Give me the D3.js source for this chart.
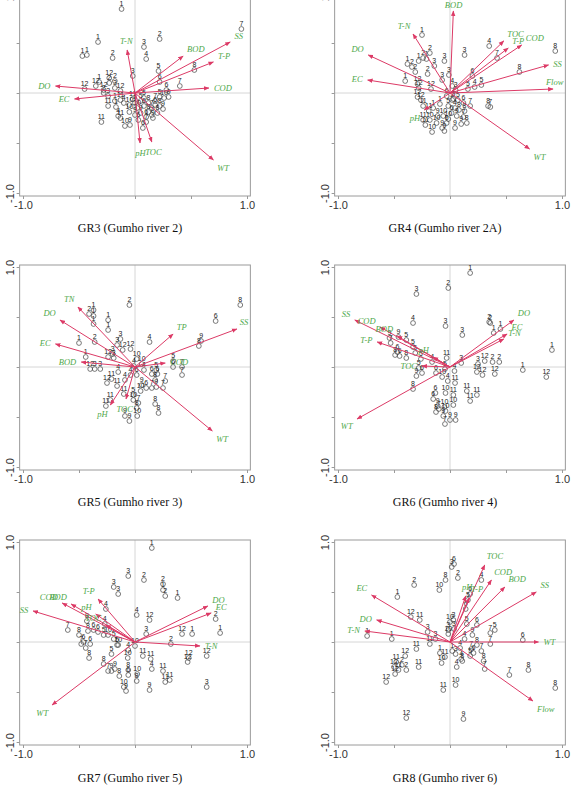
<!DOCTYPE html>
<html>
<head>
<meta charset="utf-8">
<script src="https://cdn.jsdelivr.net/npm/d3@7"></script>
<style>
body { margin: 0; background: #fff; }
.site text { font-family: "Liberation Sans", Arial, sans-serif; font-size: 7px; fill: #222; }
.vec text { font-family: "Liberation Serif", "Times New Roman", serif; font-style: italic; font-size: 8.5px; fill: #4ea84a; }
.tick text { font-family: "Liberation Sans", Arial, sans-serif; font-size: 11px; fill: #333; }
.caption { font-family: "Liberation Serif", "Times New Roman", serif; font-size: 12px; fill: #111; }
</style>
</head>
<body>
<svg id="chart" width="571" height="788"></svg>
<script>
// panel titles
const panelTitles = ["GR3 (Gumho river 2)", "GR4 (Gumho river 2A)", "GR5 (Gumho river 3)",
                     "GR6 (Gumho river 4)", "GR7 (Gumho river 5)", "GR8 (Gumho river 6)"];

// axis ticks
const tickValues = [-1, -0.5, 0, 0.5, 1];
const tickLabels = {"-1": "-1.0", "1": "1.0"};

// variable vectors: [name, axis1, axis2]
const gr3Vectors = [["SS",0.85,0.51],["T-P",0.70,0.31],["BOD",0.43,0.37],["COD",0.66,0.05],["WT",0.70,-0.67],
  ["TOC",0.15,-0.49],["pH",0.045,-0.50],["T-N",-0.07,0.43],["DO",-0.71,0.07],["EC",-0.54,-0.06]];
const gr4Vectors = [["BOD",0.03,0.82],["T-N",-0.33,0.59],["TOC",0.48,0.52],["T-P",0.52,0.45],["COD",0.64,0.48],
  ["DO",-0.73,0.38],["SS",0.88,0.28],["EC",-0.735,0.13],["Flow",0.92,0.04],["WT",0.71,-0.56],["pH",-0.23,-0.17]];
const gr5Vectors = [["TN",-0.51,0.60],["DO",-0.67,0.47],["EC",-0.71,0.23],["BOD",-0.48,0.05],["TP",0.34,0.33],
  ["SS",0.91,0.38],["COD",0.27,0.04],["WT",0.69,-0.64],["TOC",-0.08,-0.32],["pH",-0.22,-0.38]];
const gr6Vectors = [["SS",-0.85,0.47],["COD",-0.625,0.40],["BOD",-0.47,0.31],["T-P",-0.65,0.25],["pH",-0.15,0.10],
  ["TOC",-0.25,0.01],["WT",-0.83,-0.52],["DO",0.57,0.47],["EC",0.51,0.33],["T-N",0.48,0.28]];
const gr7Vectors = [["SS",-0.91,0.31],["COD",-0.65,0.39],["BOD",-0.57,0.38],["T-P",-0.33,0.43],["pH",-0.35,0.28],
  ["TOC",-0.26,0.17],["WT",-0.74,-0.63],["DO",0.65,0.36],["EC",0.68,0.29],["T-N",0.58,-0.04]];
const gr8Vectors = [["TOC",0.31,0.77],["COD",0.37,0.62],["BOD",0.49,0.55],["pH",0.14,0.46],["T-P",0.17,0.44],
  ["SS",0.77,0.50],["EC",-0.70,0.47],["DO",-0.655,0.22],["T-N",-0.76,0.11],["WT",0.79,0.0],["Flow",0.74,-0.59]];

// site scores: [axis1, axis2, month]
const gr3Sites = [[-0.12,0.84,"1"],[-0.33,0.51,"1"],[-0.47,0.37,"1"],[-0.43,0.38,"1"],[-0.20,0.35,"2"],[0.22,0.54,"2"],
  [0.08,0.46,"3"],[0.10,0.34,"4"],[0.95,0.64,"7"],[0.53,0.23,"8"],[-0.02,0.17,"3"],[0.21,0.22,"5"],[0.22,0.11,"6"],
  [0.28,0.03,"6"],[0.40,0.07,"7"],[0.22,-0.04,"5"],[0.26,-0.05,"10"],[0.30,-0.04,"9"],[-0.23,0.15,"12"],[-0.18,0.12,"2"],
  [-0.23,0.10,"2"],[-0.32,0.11,"1"],[-0.35,0.07,"12"],[-0.45,0.04,"12"],[-0.18,0.05,"3"],[-0.28,0.03,"12"],[-0.28,0.0,"2"],
  [-0.24,-0.03,"3"],[-0.13,0.02,"12"],[-0.13,-0.07,"11"],[-0.18,-0.08,"1"],[-0.24,-0.13,"11"],[-0.17,-0.14,"1"],
  [-0.10,-0.10,"4"],[-0.05,-0.12,"10"],[0.0,-0.10,"4"],[0.05,-0.08,"5"],[0.08,-0.13,"6"],[0.12,-0.10,"8"],[0.15,-0.15,"7"],
  [0.18,-0.12,"6"],[0.22,-0.13,"8"],[0.25,-0.16,"9"],[0.20,-0.20,"8"],[0.15,-0.22,"7"],[0.10,-0.24,"6"],[0.05,-0.20,"9"],
  [0.0,-0.22,"9"],[-0.05,-0.19,"10"],[-0.15,-0.23,"4"],[-0.13,-0.25,"11"],[-0.30,-0.29,"11"],[-0.09,-0.33,"10"],
  [-0.045,-0.32,"9"],[0.07,-0.35,"6"],[0.10,-0.29,"7"],[0.16,-0.25,"9"],[0.02,-0.15,"10"],[-0.02,-0.06,"11"],
  [0.08,-0.05,"5"],[0.12,-0.19,"8"],[0.18,-0.08,"7"],[0.03,-0.27,"6"]];
const gr4Sites = [[-0.25,0.58,"1"],[-0.18,0.40,"2"],[0.13,0.38,"3"],[0.35,0.47,"4"],[0.94,0.42,"8"],[0.42,0.35,"7"],
  [0.62,0.21,"8"],[-0.05,0.32,"3"],[-0.14,0.27,"3"],[-0.01,0.18,"3"],[-0.07,0.13,"3"],[-0.38,0.29,"1"],[-0.34,0.26,"2"],
  [-0.28,0.32,"1"],[-0.24,0.35,"2"],[-0.21,0.34,"1"],[-0.31,0.21,"2"],[-0.20,0.19,"2"],[-0.40,0.12,"1"],[-0.29,0.09,"12"],
  [-0.28,0.05,"12"],[-0.17,0.04,"12"],[-0.29,-0.04,"12"],[-0.26,-0.07,"12"],[-0.24,-0.13,"11"],[0.20,0.17,"6"],
  [0.16,0.04,"5"],[0.22,0.06,"4"],[0.28,0.08,"5"],[0.02,0.07,"4"],[0.05,0.03,"3"],[0.34,-0.13,"8"],[0.36,-0.14,"7"],
  [-0.03,-0.03,"6"],[0.02,-0.07,"2"],[0.07,-0.07,"5"],[0.12,-0.10,"6"],[0.18,-0.13,"7"],[0.13,-0.18,"8"],[0.045,-0.15,"4"],
  [-0.015,-0.13,"5"],[-0.09,-0.11,"1"],[-0.15,-0.15,"1"],[-0.19,-0.18,"11"],[-0.11,-0.23,"9"],[-0.06,-0.23,"10"],
  [-0.015,-0.26,"10"],[0.06,-0.23,"9"],[0.12,-0.24,"7"],[0.15,-0.30,"8"],[0.10,-0.31,"9"],[0.045,-0.35,"9"],
  [-0.03,-0.30,"6"],[-0.12,-0.30,"10"],[-0.18,-0.27,"10"],[-0.24,-0.27,"11"],[-0.22,-0.32,"11"],[-0.16,-0.39,"10"],
  [-0.07,-0.35,"9"],[-0.05,-0.38,"9"],[0.03,-0.06,"5"],[0.08,-0.17,"8"],[0.015,-0.20,"6"]];
const gr5Sites = [[-0.05,0.62,"2"],[0.94,0.62,"8"],[0.72,0.46,"6"],[0.59,0.26,"9"],[0.57,0.21,"8"],[-0.37,0.57,"1"],
  [-0.41,0.53,"2"],[-0.37,0.51,"1"],[-0.37,0.43,"1"],[-0.24,0.47,"1"],[-0.24,0.37,"1"],[-0.50,0.24,"1"],[-0.36,0.25,"2"],
  [-0.13,0.28,"3"],[-0.16,0.22,"3"],[-0.04,0.18,"12"],[-0.11,0.17,"12"],[0.13,0.25,"4"],[0.015,0.08,"10"],[0.06,0.03,"10"],
  [-0.20,0.13,"3"],[-0.24,0.10,"12"],[-0.19,0.09,"3"],[-0.44,0.10,"1"],[-0.40,-0.02,"12"],[-0.36,-0.02,"3"],
  [-0.31,-0.02,"3"],[-0.15,-0.05,"4"],[-0.21,-0.12,"11"],[-0.25,-0.16,"12"],[-0.16,-0.19,"11"],[-0.09,-0.13,"4"],
  [-0.04,-0.08,"4"],[0.015,-0.08,"6"],[0.08,-0.03,"4"],[0.15,-0.07,"6"],[0.19,-0.03,"5"],[0.20,-0.07,"6"],[0.18,-0.13,"8"],
  [0.27,-0.14,"7"],[0.25,-0.21,"7"],[0.34,0.06,"5"],[0.34,0.0,"6"],[0.42,0.0,"7"],[0.42,-0.08,"7"],[0.06,-0.18,"9"],
  [0.05,-0.24,"10"],[0.10,-0.21,"6"],[0.15,-0.21,"7"],[0.19,-0.20,"9"],[-0.015,-0.28,"5"],[-0.015,-0.33,"10"],
  [0.03,-0.36,"7"],[0.015,-0.41,"8"],[0.18,-0.37,"8"],[0.21,-0.46,"8"],[-0.09,-0.49,"9"],[-0.05,-0.54,"9"],
  [0.02,-0.49,"10"],[-0.26,-0.39,"11"],[-0.10,-0.27,"11"],[-0.22,-0.33,"11"],[-0.01,0.01,"4"]];
const gr6Sites = [[0.18,0.94,"1"],[-0.015,0.79,"2"],[-0.30,0.73,"3"],[-0.33,0.44,"4"],[-0.04,0.41,"3"],[0.11,0.32,"3"],
  [0.35,0.45,"2"],[0.36,0.44,"2"],[0.39,0.34,"1"],[0.45,0.38,"1"],[0.91,0.17,"1"],[0.65,-0.03,"1"],[0.86,-0.10,"12"],
  [0.25,0.03,"3"],[0.31,0.06,"12"],[0.38,0.05,"2"],[0.44,0.05,"2"],[0.24,-0.05,"12"],[0.29,-0.08,"12"],[0.40,-0.07,"12"],
  [0.10,0.04,"3"],[-0.03,0.09,"11"],[0.04,-0.04,"4"],[-0.045,-0.02,"5"],[-0.07,-0.10,"10"],[0.045,-0.16,"11"],
  [-0.02,-0.14,"4"],[-0.125,-0.06,"6"],[-0.16,0.05,"4"],[-0.26,0.08,"5"],[-0.31,0.14,"5"],[-0.33,0.20,"5"],
  [-0.39,0.27,"5"],[-0.46,0.30,"9"],[-0.54,0.29,"9"],[-0.53,0.24,"7"],[-0.47,0.15,"6"],[-0.45,0.11,"6"],[-0.49,0.12,"8"],
  [-0.39,0.09,"8"],[-0.28,-0.01,"5"],[-0.25,-0.06,"6"],[-0.30,-0.09,"9"],[-0.33,-0.22,"8"],[-0.13,-0.26,"6"],
  [-0.04,-0.26,"10"],[0.03,-0.28,"11"],[0.15,-0.24,"11"],[0.24,-0.28,"11"],[0.18,-0.34,"11"],[0.03,-0.38,"10"],
  [-0.04,-0.44,"10"],[-0.11,-0.39,"9"],[-0.125,-0.45,"8"],[-0.06,-0.49,"9"],[-0.045,-0.57,"7"],[0.0,-0.53,"9"],
  [0.05,-0.53,"9"],[-0.15,-0.32,"6"],[-0.05,-0.40,"10"],[-0.10,-0.42,"7"]];
const gr7Sites = [[0.15,0.94,"1"],[-0.06,0.66,"3"],[0.08,0.62,"2"],[0.25,0.58,"2"],[0.25,0.52,"1"],[0.27,0.46,"2"],
  [0.38,0.44,"1"],[-0.19,0.55,"3"],[-0.15,0.48,"3"],[-0.26,0.33,"4"],[0.015,0.27,"4"],[0.13,0.22,"12"],[0.10,0.08,"3"],
  [0.0,-0.04,"10"],[0.32,-0.02,"2"],[0.42,0.08,"12"],[0.51,0.08,"1"],[0.72,0.23,"2"],[0.76,0.09,"1"],[0.64,-0.14,"12"],
  [0.48,-0.16,"12"],[0.47,-0.20,"12"],[0.64,-0.45,"3"],[0.25,-0.29,"11"],[0.27,-0.40,"11"],[0.31,-0.38,"11"],
  [0.14,-0.17,"11"],[0.07,-0.14,"11"],[0.15,-0.27,"4"],[0.02,-0.32,"10"],[0.015,-0.39,"8"],[0.13,-0.48,"9"],
  [-0.10,-0.45,"10"],[-0.08,-0.49,"9"],[-0.06,-0.28,"8"],[-0.06,-0.33,"6"],[-0.14,-0.34,"8"],[-0.18,-0.27,"9"],
  [-0.21,-0.29,"9"],[-0.24,-0.29,"7"],[-0.28,-0.22,"8"],[-0.41,-0.16,"8"],[-0.44,-0.06,"7"],[-0.48,-0.02,"7"],
  [-0.40,-0.02,"6"],[-0.50,0.07,"8"],[-0.60,0.12,"7"],[-0.43,0.21,"8"],[-0.42,0.11,"8"],[-0.37,0.12,"6"],
  [-0.28,0.07,"5"],[-0.19,0.03,"5"],[-0.16,-0.03,"5"],[-0.06,-0.08,"4"],[-0.065,-0.16,"10"],[-0.21,-0.12,"5"],
  [-0.27,0.18,"4"],[-0.24,0.07,"10"],[-0.33,0.10,"6"],[-0.15,-0.03,"10"],[-0.46,0.0,"6"]];
const gr8Sites = [[0.015,0.75,"3"],[0.036,0.78,"6"],[0.07,0.64,"2"],[0.28,0.62,"4"],[-0.32,0.57,"2"],[-0.04,0.62,"8"],
  [-0.095,0.52,"10"],[-0.47,0.45,"1"],[0.18,0.48,"6"],[0.16,0.42,"5"],[0.14,0.33,"6"],[-0.35,0.25,"12"],[-0.27,0.22,"11"],
  [0.0,0.20,"10"],[0.03,0.22,"3"],[0.036,0.13,"3"],[-0.015,0.12,"3"],[-0.015,0.08,"10"],[-0.20,0.10,"3"],[-0.13,0.03,"3"],
  [-0.52,0.03,"1"],[-0.74,0.06,"1"],[0.15,0.18,"5"],[0.24,0.17,"6"],[0.20,0.07,"9"],[0.13,0.03,"4"],[0.36,0.09,"7"],
  [0.40,0.12,"5"],[0.36,-0.02,"7"],[0.65,0.02,"6"],[0.24,-0.03,"8"],[0.19,-0.07,"7"],[0.28,-0.09,"7"],[0.21,-0.11,"6"],
  [0.18,-0.14,"5"],[0.30,-0.19,"8"],[0.31,-0.27,"7"],[0.53,-0.33,"7"],[0.70,-0.28,"8"],[0.94,-0.46,"8"],[0.05,-0.12,"3"],
  [0.02,-0.09,"1"],[-0.045,-0.15,"11"],[-0.09,-0.11,"1"],[-0.18,-0.02,"11"],[-0.30,-0.07,"11"],[-0.40,-0.14,"12"],
  [-0.48,-0.20,"11"],[-0.50,-0.25,"12"],[-0.46,-0.28,"11"],[-0.49,-0.32,"12"],[-0.43,-0.23,"2"],[-0.39,-0.28,"2"],
  [-0.57,-0.40,"12"],[-0.28,-0.25,"11"],[-0.075,-0.21,"10"],[0.10,-0.17,"4"],[0.06,-0.25,"4"],[0.11,-0.19,"8"],
  [0.05,-0.43,"10"],[-0.06,-0.48,"11"],[-0.39,-0.76,"12"],[0.12,-0.77,"9"],[0.09,-0.06,"4"]];

const panels = [
  {title: panelTitles[0], vectors: gr3Vectors, sites: gr3Sites},
  {title: panelTitles[1], vectors: gr4Vectors, sites: gr4Sites},
  {title: panelTitles[2], vectors: gr5Vectors, sites: gr5Sites},
  {title: panelTitles[3], vectors: gr6Vectors, sites: gr6Sites},
  {title: panelTitles[4], vectors: gr7Vectors, sites: gr7Sites},
  {title: panelTitles[5], vectors: gr8Vectors, sites: gr8Sites}
];

const colX = [135, 450], rowY = [93, 367, 642], captionY = [232, 506, 782];
const arrowColor = "#dc3a66";

const svg = d3.select("#chart");

svg.append("defs").append("marker")
    .attr("id", "head")
    .attr("viewBox", "0 0 10 10")
    .attr("refX", 9).attr("refY", 5)
    .attr("markerWidth", 5.5).attr("markerHeight", 5.5)
    .attr("markerUnits", "userSpaceOnUse")
    .attr("orient", "auto")
  .append("path")
    .attr("d", "M0,1L10,5L0,9Z")
    .attr("fill", arrowColor);

panels.forEach((p, i) => {
    let cx = colX[i % 2], cy = rowY[Math.floor(i / 2)];
    let x = d3.scaleLinear().domain([-1, 1]).range([cx - 112, cx + 112]);
    let y = d3.scaleLinear().domain([-1, 1]).range([cy + 100, cy - 100]);
    let g = svg.append("g");
    let right = x(1.03);

    // zero lines
    g.append("line").attr("x1", x(-1.03)).attr("x2", x(1.03)).attr("y1", y(0)).attr("y2", y(0))
        .attr("stroke", "#d6d6d6").attr("stroke-width", 1);
    g.append("line").attr("x1", x(0)).attr("x2", x(0)).attr("y1", y(1.02)).attr("y2", y(-1.03))
        .attr("stroke", "#d6d6d6").attr("stroke-width", 1);

    // frame
    g.append("rect")
        .attr("x", x(-1.03)).attr("y", y(1.02))
        .attr("width", x(1.03) - x(-1.03)).attr("height", y(-1.03) - y(1.02))
        .attr("fill", "none").attr("stroke", "#9a9a9a").attr("stroke-width", 1);

    // axes
    let fmt = d => tickLabels[String(d)] || "";
    let xAxis = g.append("g").attr("transform", "translate(0," + y(-1.03) + ")")
        .call(d3.axisBottom(x).tickValues(tickValues).tickFormat(fmt).tickSize(3).tickPadding(2));
    let yAxis = g.append("g").attr("transform", "translate(" + x(-1.03) + ",0)")
        .call(d3.axisLeft(y).tickValues(tickValues).tickFormat(fmt).tickSize(3));
    [xAxis, yAxis].forEach(a => {
        a.select(".domain").remove();
        a.selectAll(".tick line").attr("stroke", "#9a9a9a");
        a.attr("font-family", null).attr("font-size", null);
    });
    yAxis.selectAll(".tick text")
        .attr("transform", "rotate(-90)")
        .attr("x", 0).attr("y", -6).attr("dy", null)
        .attr("text-anchor", "middle");

    // sites
    let s = g.append("g").attr("class", "site");
    s.selectAll("circle").data(p.sites).enter().append("circle")
        .attr("cx", d => x(d[0])).attr("cy", d => y(d[1]))
        .attr("r", 2.4)
        .attr("fill", "none").attr("stroke", "#444").attr("stroke-width", 0.7);
    s.selectAll("text").data(p.sites).enter().append("text")
        .attr("x", d => x(d[0])).attr("y", d => y(d[1]) - 3.5)
        .attr("text-anchor", "middle")
        .text(d => d[2]);

    // vectors
    let v = g.append("g").attr("class", "vec");
    v.selectAll("line").data(p.vectors).enter().append("line")
        .attr("x1", x(0)).attr("y1", y(0))
        .attr("x2", d => x(d[1])).attr("y2", d => y(d[2]))
        .attr("stroke", arrowColor).attr("stroke-width", 1)
        .attr("marker-end", "url(#head)");
    v.selectAll("text").data(p.vectors).enter().append("text")
        .each(function(d) {
            let tx = x(d[1]), ty = y(d[2]);
            let dx = tx - x(0), dy = ty - y(0);
            let len = Math.sqrt(dx * dx + dy * dy) || 1;
            let ux = dx / len, uy = dy / len;
            let anchor = ux > 0.35 ? "start" : (ux < -0.35 ? "end" : "middle");
            let off = uy < -0.35 ? -1 : (uy > 0.35 ? 8 : 3);
            let el = d3.select(this)
                .attr("x", tx + ux * 5)
                .attr("y", Math.max(8, ty + uy * 5 + off))
                .attr("text-anchor", anchor)
                .text(d[0]);
            if (anchor == "start" && tx + ux * 5 + this.getComputedTextLength() > right - 1) {
                el.attr("x", right - 2).attr("y", ty - 4).attr("text-anchor", "end");
            }
        });

    // caption
    svg.append("text").attr("class", "caption")
        .attr("x", cx - 5).attr("y", captionY[Math.floor(i / 2)])
        .attr("text-anchor", "middle")
        .text(p.title);
});
</script>
</body>
</html>
